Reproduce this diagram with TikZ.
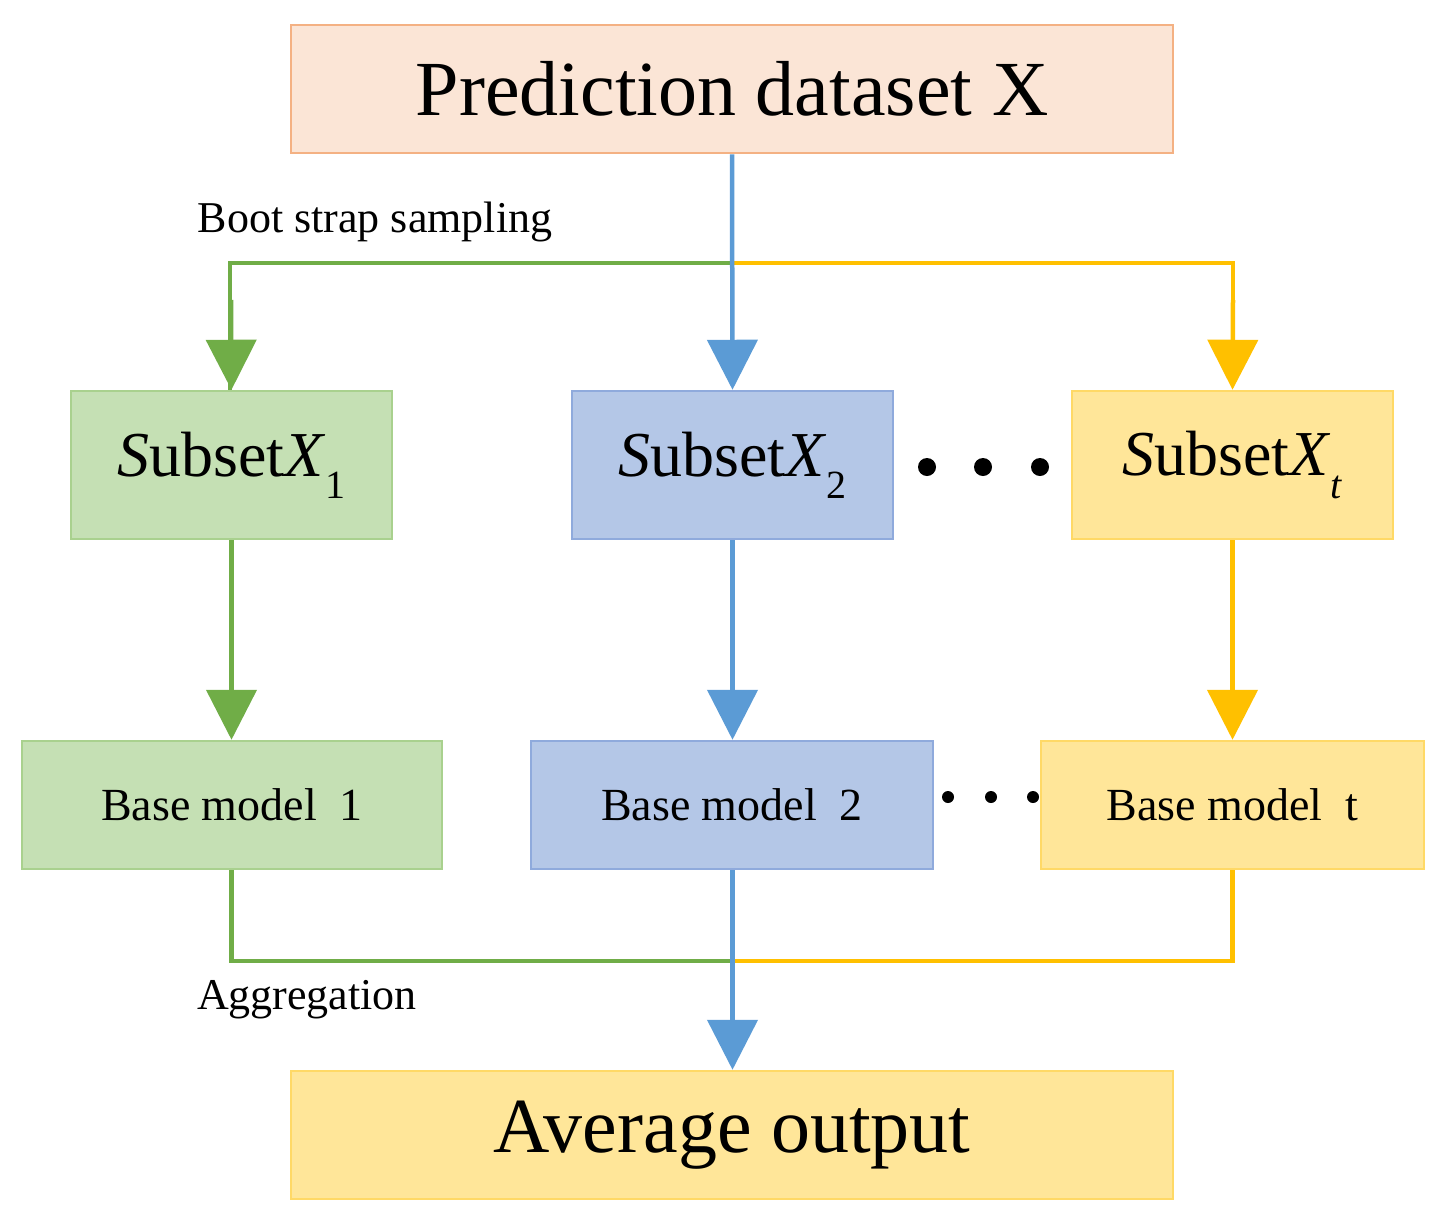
\documentclass[tikz,border=0pt]{standalone}
\usepackage{fontspec}
\setmainfont{Liberation Serif}
\usetikzlibrary{arrows.meta}
\definecolor{gline}{HTML}{70AD47}
\definecolor{bline}{HTML}{5B9BD5}
\definecolor{yline}{HTML}{FFC000}
\definecolor{gfill}{HTML}{C5E0B4}
\definecolor{gdraw}{HTML}{A9D18E}
\definecolor{bfill}{HTML}{B4C7E7}
\definecolor{bdraw}{HTML}{8FAADC}
\definecolor{yfill}{HTML}{FFE699}
\definecolor{ydraw}{HTML}{FFD966}
\definecolor{ofill}{HTML}{FBE5D6}
\definecolor{odraw}{HTML}{F4B183}
\newcommand{\subx}[1]{\textit{S}ubset\textit{X}\raisebox{-0.35em}{\fontsize{40}{40}\selectfont #1}}
\begin{document}
\begin{tikzpicture}[x=1pt,y=-1pt,
  box/.style={draw,line width=2.5pt,inner sep=0pt},
  con/.style={line width=4.5pt},
  arr/.style={con,-{Triangle[width=50pt,length=50pt]}},
  big/.style={font=\fontsize{78}{80}\selectfont},
  mid/.style={font=\fontsize{64}{66}\selectfont},
  sm/.style={font=\fontsize{46}{48}\selectfont},
  lab/.style={font=\fontsize{44}{46}\selectfont}]
\useasboundingbox (0,0) rectangle (1443,1224);
\node[box,draw=odraw,fill=ofill,minimum width=882pt,minimum height=128pt,big] (top) at (732,89) {Prediction dataset X};
\node[box,draw=gdraw,fill=gfill,minimum width=321pt,minimum height=148pt,mid] (s1) at (231.5,465) {\subx{1}};
\node[box,draw=bdraw,fill=bfill,minimum width=321pt,minimum height=148pt,mid] (s2) at (732.5,465) {\subx{2}};
\node[box,draw=ydraw,fill=yfill,minimum width=321pt,minimum height=148pt,mid] (st) at (1232.5,465) {\subx{\textit{t}}};
\node[box,draw=gdraw,fill=gfill,minimum width=420pt,minimum height=128pt,sm] (b1) at (232,805) {Base model\ \ 1};
\node[box,draw=bdraw,fill=bfill,minimum width=402pt,minimum height=128pt,sm] (b2) at (732,805) {Base model\ \ 2};
\node[box,draw=ydraw,fill=yfill,minimum width=383pt,minimum height=128pt,sm] (bt) at (1232.5,805) {Base model\ \ t};
\node[box,draw=ydraw,fill=yfill,minimum width=882pt,minimum height=128pt,big] (avg) at (732,1135) {Average output};
\coordinate (split) at (733,263);
\coordinate (join) at (733,961);
\draw[con,gline] (split) -| ([xshift=-1.5pt]s1.north) coordinate (g1);
\draw[arr,gline] (231,300) -- (s1.north);
\draw[con,yline] (split) -| (1233,300);
\draw[arr,yline] (1233,300) -- (st.north);
\draw[arr,bline] (top.south) -- (s2.north);
\draw[arr,gline] (s1.south) -- (b1.north -| s1.south);
\draw[arr,bline] (s2.south) -- (b2.north -| s2.south);
\draw[arr,yline] (st.south) -- (bt.north -| st.south);
\draw[con,gline] (b1.south -| s1.south) |- (join);
\draw[con,yline] (bt.south -| st.south) |- (join);
\draw[arr,bline] (b2.south -| s2.south) -- (avg.north -| s2.south);
\node[lab] (bs) at (375,222) {Boot strap sampling};
\node[lab] (ag) at (307,1000) {Aggregation};
\foreach \x in {927,983,1040} \fill (\x,467) circle (9pt);
\foreach \x in {948,991,1033} \fill (\x,797) circle (6pt);
\end{tikzpicture}
\end{document}
